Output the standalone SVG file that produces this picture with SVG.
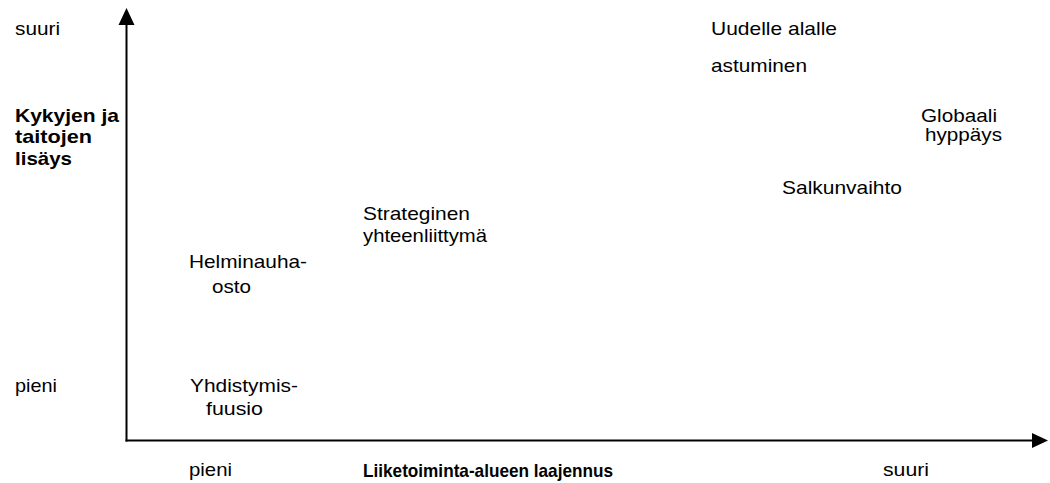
<svg xmlns="http://www.w3.org/2000/svg" width="1050" height="483" viewBox="0 0 1050 483">
<style>
text{font-family:"Liberation Sans",Arial,sans-serif;font-size:19px;fill:#000}
.b{font-weight:bold}
.ax{stroke:#000;stroke-width:2;fill:none}
</style>
<rect width="1050" height="483" fill="#fff"/>
<g id="connectors">
<line class="ax" x1="126.5" y1="441.5" x2="126.5" y2="22"/>
<polygon points="126.5,8 118.5,25 134.5,25" fill="#000"/>
<line class="ax" x1="125.5" y1="440.5" x2="1034" y2="440.5"/>
<polygon points="1048,440.5 1032,433 1032,448" fill="#000"/>
</g>
<g id="axis-labels">
<text x="15" y="35" textLength="45" lengthAdjust="spacingAndGlyphs">suuri</text>
<text x="15" y="392" textLength="42" lengthAdjust="spacingAndGlyphs">pieni</text>
<text class="b" x="15" y="122" textLength="104" lengthAdjust="spacingAndGlyphs">Kykyjen ja</text>
<text class="b" x="15" y="143" textLength="77" lengthAdjust="spacingAndGlyphs">taitojen</text>
<text class="b" x="15" y="165" textLength="57" lengthAdjust="spacingAndGlyphs">lisäys</text>
<text x="189" y="476" textLength="43" lengthAdjust="spacingAndGlyphs">pieni</text>
<text class="b" x="363" y="477" style="font-size:18.6px" textLength="250" lengthAdjust="spacingAndGlyphs">Liiketoiminta-alueen laajennus</text>
<text x="883" y="476" textLength="46" lengthAdjust="spacingAndGlyphs">suuri</text>
</g>
<g id="node-uudelle">
<text x="711" y="35" textLength="126" lengthAdjust="spacingAndGlyphs">Uudelle alalle</text>
<text x="711" y="72" textLength="96" lengthAdjust="spacingAndGlyphs">astuminen</text>
</g>
<g id="node-globaali">
<text x="921" y="122" textLength="76" lengthAdjust="spacingAndGlyphs">Globaali</text>
<text x="925" y="141" textLength="77" lengthAdjust="spacingAndGlyphs">hyppäys</text>
</g>
<g id="node-salkunvaihto">
<text x="782" y="194" textLength="120" lengthAdjust="spacingAndGlyphs">Salkunvaihto</text>
</g>
<g id="node-strateginen">
<text x="363" y="220" textLength="107" lengthAdjust="spacingAndGlyphs">Strateginen</text>
<text x="363" y="242" textLength="124" lengthAdjust="spacingAndGlyphs">yhteenliittymä</text>
</g>
<g id="node-helminauha">
<text x="189" y="268" textLength="118" lengthAdjust="spacingAndGlyphs">Helminauha-</text>
<text x="212" y="293" textLength="39" lengthAdjust="spacingAndGlyphs">osto</text>
</g>
<g id="node-yhdistymis">
<text x="190" y="392" textLength="108" lengthAdjust="spacingAndGlyphs">Yhdistymis-</text>
<text x="206" y="415" textLength="57" lengthAdjust="spacingAndGlyphs">fuusio</text>
</g>
</svg>
